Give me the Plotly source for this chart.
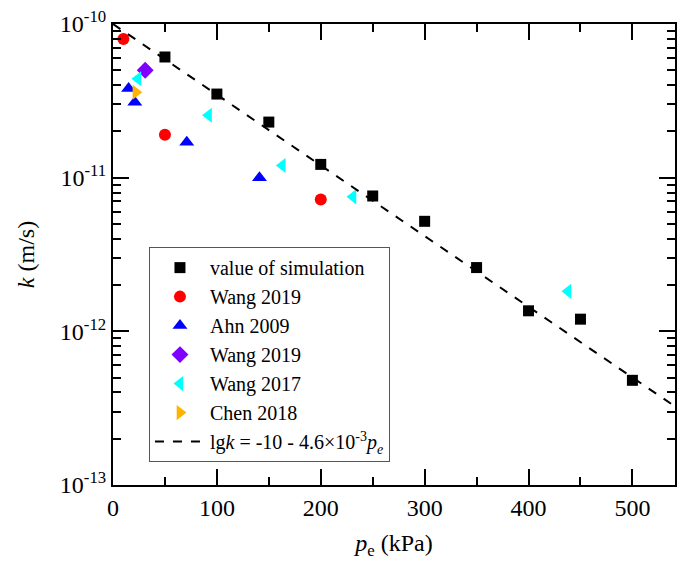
import plotly.graph_objects as go

# Data
sim_p = [50, 100, 150, 200, 250, 300, 350, 400, 450, 500]
sim_k = [6.1e-11, 3.5e-11, 2.3e-11, 1.22e-11, 7.6e-12, 5.2e-12, 2.6e-12, 1.36e-12, 1.2e-12, 4.8e-13]

wang2019a_p = [10, 50, 200]
wang2019a_k = [8.0e-11, 1.9e-11, 7.2e-12]

ahn2009_p = [15, 21, 71, 141]
ahn2009_k = [3.8e-11, 3.1e-11, 1.7e-11, 1.0e-11]

wang2019b_p = [31]
wang2019b_k = [5.0e-11]

wang2017_p = [24, 92, 163, 231, 438]
wang2017_k = [4.4e-11, 2.55e-11, 1.2e-11, 7.5e-12, 1.82e-12]

chen2018_p = [22]
chen2018_k = [3.6e-11]

fit_p = [0, 550]
fit_k = [1.0e-10, 2.95e-13]

y_tickvals = [1e-13, 1e-12, 1e-11, 1e-10]
y_ticktext = ["10<sup>-13</sup>", "10<sup>-12</sup>", "10<sup>-11</sup>", "10<sup>-10</sup>"]
y_minor_vals = [m * 10.0 ** e for e in (-13, -12, -11) for m in range(2, 10)]
x_tickvals = [0, 100, 200, 300, 400, 500]
x_minor_vals = [50, 150, 250, 350, 450]

FONT = "Liberation Serif"

fig = go.Figure()

def add_markers(x, y, name, symbol, color, size):
    fig.add_trace(go.Scatter(x=x, y=y, mode="markers", name=name,
                             marker=dict(symbol=symbol, color=color, size=size,
                                         line=dict(width=0))))

add_markers(sim_p, sim_k, "value of simulation", "square", "#000000", 11)
add_markers(wang2019a_p, wang2019a_k, "Wang 2019", "circle", "#ff0000", 12)
add_markers(ahn2009_p, ahn2009_k, "Ahn 2009", "triangle-up", "#0000ff", 13)
add_markers(wang2019b_p, wang2019b_k, "Wang 2019", "diamond", "#8000ff", 13)
add_markers(wang2017_p, wang2017_k, "Wang 2017", "triangle-left", "#00ffff", 13)
add_markers(chen2018_p, chen2018_k, "Chen 2018", "triangle-right", "#ffb400", 13)

fig.add_trace(go.Scatter(x=fit_p, y=fit_k, mode="lines",
                         name="lg<i>k</i> = -10 - 4.6×10<sup>-3</sup><i>p<sub>e</sub></i>",
                         line=dict(color="#000000", width=2, dash="dash")))

fig.update_layout(
    width=678, height=563,
    margin=dict(l=113, r=1, t=24, b=78),
    paper_bgcolor="white", plot_bgcolor="white",
    font=dict(family=FONT, color="#000000", size=20),
    showlegend=True,
    legend=dict(x=0.064, y=0.516, xanchor="left", yanchor="top",
                bgcolor="white", bordercolor="#555555", borderwidth=1,
                font=dict(family=FONT, size=20), itemwidth=50,
                tracegroupgap=0),
)

fig.update_xaxes(
    range=[0, 541], tickvals=x_tickvals,
    showline=True, linecolor="#000000", linewidth=2, mirror="ticks",
    ticks="inside", ticklen=16, tickwidth=2, tickcolor="#000000",
    minor=dict(tickmode="array", tickvals=x_minor_vals, ticks="inside", ticklen=8,
               tickwidth=2, tickcolor="#000000", showgrid=False),
    showgrid=False, zeroline=False,
    tickfont=dict(family=FONT, size=24),
    title=dict(text="<i>p</i><sub>e</sub> (kPa)", font=dict(family=FONT, size=24), standoff=14),
)
fig.update_yaxes(
    type="log", range=[-13, -10], tickvals=y_tickvals, ticktext=y_ticktext,
    showline=True, linecolor="#000000", linewidth=2, mirror="ticks",
    ticks="inside", ticklen=16, tickwidth=2, tickcolor="#000000",
    minor=dict(tickmode="array", tickvals=y_minor_vals, ticks="inside", ticklen=8,
               tickwidth=2, tickcolor="#000000", showgrid=False),
    showgrid=False, zeroline=False,
    tickfont=dict(family=FONT, size=24),
    title=dict(text="<i>k</i> (m/s)", font=dict(family=FONT, size=24), standoff=18),
)

fig.write_html("out.html")
